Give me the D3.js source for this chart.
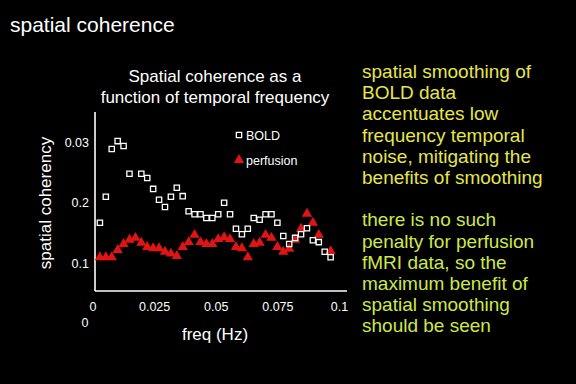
<!DOCTYPE html>
<html>
<meta charset="utf-8">
<style>
    body { margin: 0; background: #000; }
    svg { display: block; background: #000; }
    text { font-family: Arial, 'Liberation Sans', sans-serif; fill: #fff; }
    .tick text { font-size: 12.5px; }
    .note { font-size: 19px; }
</style>
<body>
<svg id="chart" width="576" height="384"></svg>
<script src="https://d3js.org/d3.v7.min.js"></script>
<script>
    // frequency bins (Hz)
    const freqs = [0.0030, 0.0054, 0.0078, 0.0102, 0.0126, 0.0150, 0.0174, 0.0198, 0.0222, 0.0246,
        0.0270, 0.0294, 0.0318, 0.0342, 0.0366, 0.0390, 0.0414, 0.0438, 0.0462, 0.0486,
        0.0510, 0.0534, 0.0558, 0.0582, 0.0606, 0.0630, 0.0654, 0.0678, 0.0702, 0.0726,
        0.0750, 0.0774, 0.0798, 0.0822, 0.0846, 0.0870, 0.0894, 0.0918, 0.0942, 0.0966];

    const boldValues = [0.167, 0.210, 0.289, 0.302, 0.294, 0.248, null, 0.248, 0.241, 0.223,
        0.205, 0.193, 0.210, 0.225, 0.211, 0.186, 0.181, 0.181, 0.175, 0.175,
        0.181, 0.200, 0.181, 0.157, 0.148, 0.157, 0.175, 0.172, 0.181, 0.181,
        0.167, 0.145, 0.132, 0.142, 0.148, 0.158, 0.138, 0.135, 0.119, 0.110];

    const perfusionValues = [0.110, 0.110, 0.110, 0.122, 0.132, 0.139, 0.142, 0.134, 0.127, 0.125,
        0.125, 0.119, 0.116, 0.112, 0.127, 0.135, 0.147, 0.135, 0.132, 0.132,
        0.140, 0.143, 0.140, 0.127, 0.125, 0.110, 0.132, 0.134, 0.147, 0.142,
        0.127, 0.119, 0.124, 0.139, 0.157, 0.182, 0.167, 0.147, null, 0.120];

    const xTicks = [0, 0.025, 0.05, 0.075, 0.1];
    const xTickLabels = ["0", "0.025", "0.05", "0.075", "0.1"];
    const yTicks = [0.1, 0.2, 0.3];
    const yTickLabels = ["0.1", "0.2", "0.03"];

    const seriesNames = ["BOLD", "perfusion"];

    const noteLines = [
        "spatial smoothing of", "BOLD data", "accentuates low", "frequency temporal",
        "noise, mitigating the", "benefits of smoothing", "",
        "there is no such", "penalty for perfusion", "fMRI data, so the",
        "maximum benefit of", "spatial smoothing", "should be seen"
    ];

    const svg = d3.select("#chart");

    const box = { left: 95, right: 347, top: 112, bottom: 291 };

    const x = d3.scaleLinear().domain([0, 0.1]).range([92.5, 339]);
    const y = d3.scaleLinear().domain([0.1, 0.3]).range([263.3, 142.3]);

    // slide title
    svg.append("text")
        .attr("x", 10).attr("y", 32)
        .style("font-size", "21px")
        .text("spatial coherence");

    // chart title
    svg.append("text")
        .attr("x", 215).attr("y", 82)
        .attr("text-anchor", "middle")
        .style("font-size", "17px")
        .text("Spatial coherence as a");
    svg.append("text")
        .attr("x", 215).attr("y", 103)
        .attr("text-anchor", "middle")
        .style("font-size", "17px")
        .text("function of temporal frequency");

    // axes lines
    svg.append("line")
        .attr("x1", box.left).attr("x2", box.left)
        .attr("y1", box.top).attr("y2", box.bottom)
        .attr("stroke", "#fff").attr("stroke-width", 1.6);
    svg.append("line")
        .attr("x1", box.left).attr("x2", box.right)
        .attr("y1", box.bottom).attr("y2", box.bottom)
        .attr("stroke", "#fff").attr("stroke-width", 1.6);

    const xAxis = d3.axisBottom(x)
        .tickValues(xTicks)
        .tickFormat((d, i) => xTickLabels[i])
        .tickSize(0)
        .tickPadding(11);
    svg.append("g")
        .attr("transform", "translate(0," + box.bottom + ")")
        .call(xAxis)
        .call(g => g.select(".domain").remove());

    const yAxis = d3.axisLeft(y)
        .tickValues(yTicks)
        .tickFormat((d, i) => yTickLabels[i])
        .tickSize(0)
        .tickPadding(6);
    svg.append("g")
        .attr("transform", "translate(" + box.left + ",0)")
        .call(yAxis)
        .call(g => g.select(".domain").remove());

    d3.selectAll(".tick text").attr("fill", "#fff").style("font-family", "Arial, 'Liberation Sans', sans-serif");

    // stray zero under the origin
    svg.append("text")
        .attr("x", 85).attr("y", 327)
        .attr("text-anchor", "middle")
        .style("font-size", "12.5px")
        .text("0");

    // axis titles
    svg.append("text")
        .attr("transform", "translate(51,203) rotate(-90)")
        .attr("text-anchor", "middle")
        .style("font-size", "17px")
        .text("spatial coherency");

    svg.append("text")
        .attr("x", 215).attr("y", 340)
        .attr("text-anchor", "middle")
        .style("font-size", "17px")
        .text("freq (Hz)");

    const square = d3.symbol().type(d3.symbolSquare).size(28);
    const triangle = d3.symbol().type(d3.symbolTriangle).size(46);

    const boldData = freqs.map((f, i) => ({ f: f, v: boldValues[i] })).filter(d => d.v != null);
    const perfData = freqs.map((f, i) => ({ f: f, v: perfusionValues[i] })).filter(d => d.v != null);

    svg.append("g")
        .selectAll("path")
        .data(perfData)
        .enter()
        .append("path")
        .attr("d", triangle)
        .attr("transform", d => "translate(" + x(d.f) + "," + y(d.v) + ")")
        .attr("fill", "#e01414");

    svg.append("g")
        .selectAll("path")
        .data(boldData)
        .enter()
        .append("path")
        .attr("d", square)
        .attr("transform", d => "translate(" + x(d.f) + "," + y(d.v) + ")")
        .attr("fill", "none")
        .attr("stroke", "#fff")
        .attr("stroke-width", 1.3);

    // legend
    const legend = svg.append("g").attr("transform", "translate(239,135)");
    legend.append("path").attr("d", square)
        .attr("fill", "none").attr("stroke", "#fff").attr("stroke-width", 1.3);
    legend.append("text").attr("x", 7).attr("y", 4.5)
        .style("font-size", "12.5px").text(seriesNames[0]);
    legend.append("path").attr("d", triangle)
        .attr("transform", "translate(0,25)")
        .attr("fill", "#e01414");
    legend.append("text").attr("x", 7).attr("y", 29.5)
        .style("font-size", "12.5px").text(seriesNames[1]);

    // side notes
    svg.append("g")
        .selectAll("text")
        .data(noteLines)
        .enter()
        .append("text")
        .attr("class", "note")
        .attr("x", 362)
        .attr("y", (d, i) => 78 + i * 21.2)
        .style("fill", (d, i) => i < 7 ? "#e6e64a" : "#cde84a")
        .text(d => d);
</script>
</body>
</html>
